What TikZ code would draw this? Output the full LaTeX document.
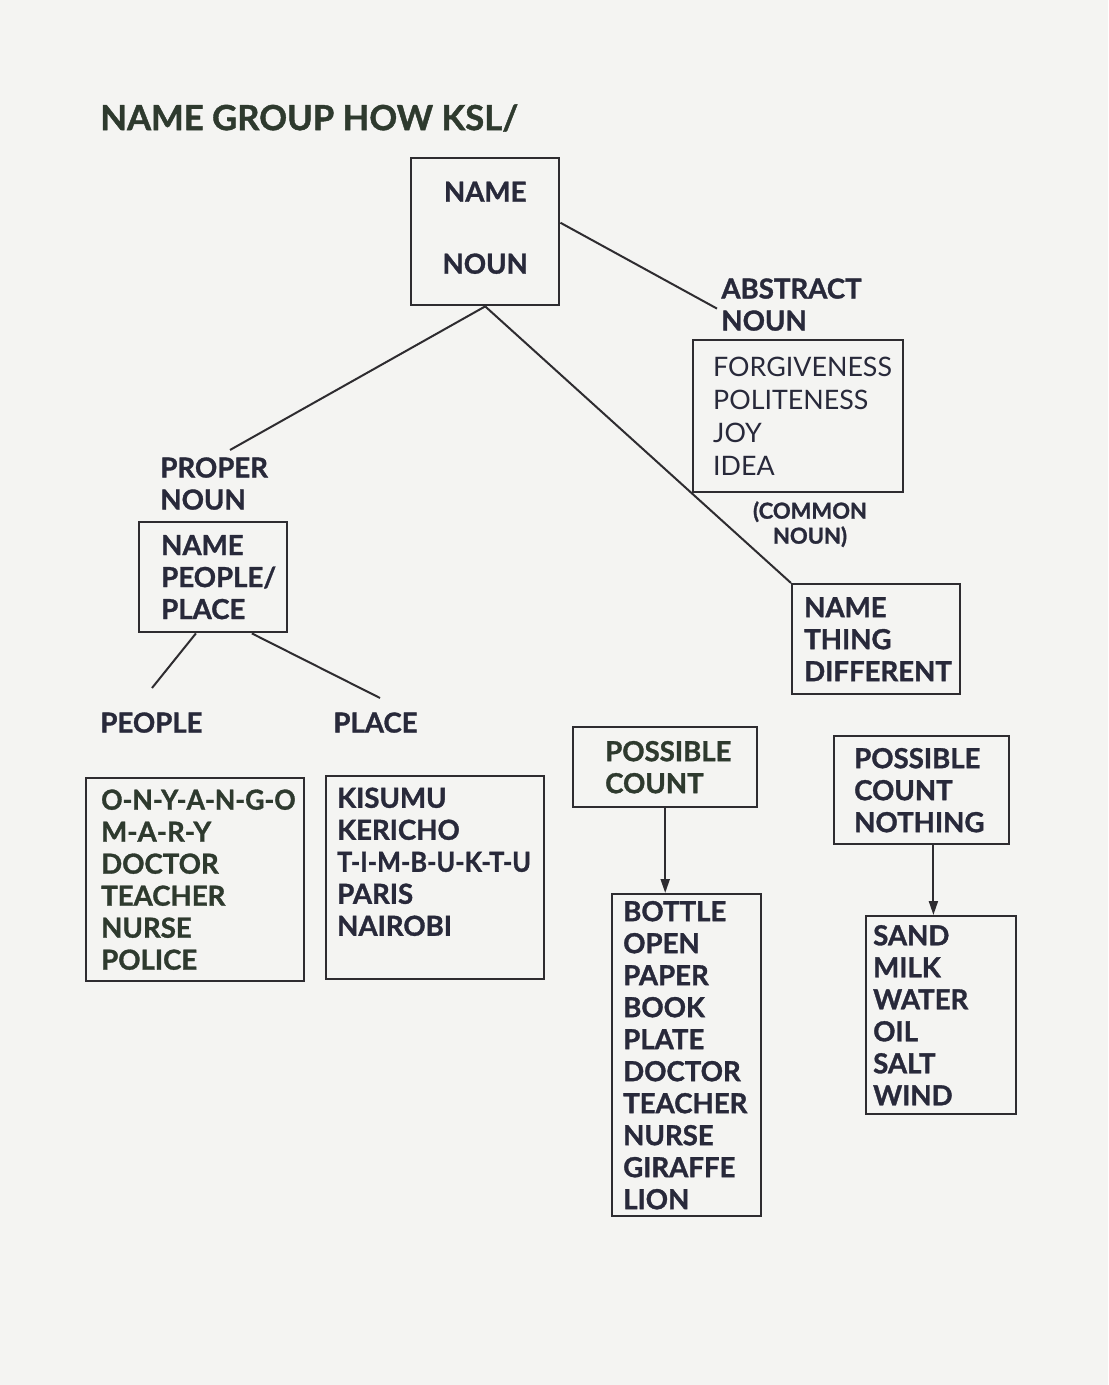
\documentclass[tikz,border=0pt]{standalone}
\usepackage{fontspec}
\setmainfont{Lato}[BoldFeatures={FakeBold=1.2}]
\usetikzlibrary{calc,arrows.meta}
\definecolor{ink}{HTML}{28293A}
\definecolor{inkg}{HTML}{2E3A2E}
\definecolor{lin}{HTML}{2E2C30}
\definecolor{bg}{HTML}{F4F4F2}
\begin{document}
\begin{tikzpicture}[x=0.5pt,y=-0.5pt,
  every node/.style={font=\bfseries\fontsize{13.8}{16}\selectfont, text=ink},
  box/.style={draw=lin, line width=1.2pt, rectangle, anchor=north west, inner ysep=0pt, align=left},
  lbl/.style={anchor=north west, inner sep=0pt, align=left},
  conn/.style={draw=lin, line width=1pt},
  arr/.style={draw=lin, line width=1pt, -{Triangle[length=7pt,width=4.5pt]}}]
\useasboundingbox (0,0) rectangle (1108,1385);
\fill[bg] (0,0) rectangle (1108,1385);
% title
\node[lbl, font=\bfseries\fontsize{17.3}{20}\selectfont, text=inkg] (title) at (100,104) {NAME GROUP HOW KSL/};
% root box
\node[box, minimum width=74pt, minimum height=73.5pt, text width=70pt, inner xsep=2pt, align=center] (nn) at (410,157) {NAME\\[20pt]NOUN\\[-12pt]\mbox{}};
% abstract
\node[lbl] (absl) at (721,278) {ABSTRACT\\NOUN};
\node[box, font=\fontsize{13.4}{16.5}\selectfont, minimum width=105pt, minimum height=76pt, inner xsep=10pt, text width=85pt] (abs) at (692,339) {FORGIVENESS\\POLITENESS\\JOY\\IDEA};
\node[anchor=north, inner sep=0pt, align=center, font=\bfseries\fontsize{11}{12.5}\selectfont] (cn) at (810,501) {(COMMON\\NOUN)};
% proper noun
\node[lbl] (prl) at (160,457) {PROPER\\NOUN};
\coordinate (prc) at (230,450);
\node[box, minimum width=74pt, minimum height=55pt, inner xsep=11pt, text width=52pt] (npp) at (138,521) {NAME\\PEOPLE/\\PLACE};
\node[lbl] (pel) at (100,712) {PEOPLE};
\node[lbl] (pll) at (333,712) {PLACE};
\coordinate (pec) at (152,688);
\coordinate (plc) at (380,698);
\node[box, minimum width=109pt, minimum height=101.5pt, inner xsep=7.5pt, text width=94pt, text=inkg] (ppl) at (85,777) {\scalebox{0.96}[1]{O-N-Y-A-N-G-O}\\\mbox{M-A-R-Y}\\DOCTOR\\TEACHER\\NURSE\\POLICE};
\node[box, minimum width=109pt, minimum height=101.5pt, inner xsep=5.5pt, text width=98pt] (plb) at (325,775) {KISUMU\\KERICHO\\\scalebox{0.915}[1]{T-I-M-B-U-K-T-U}\\PARIS\\NAIROBI\\\mbox{}};
% common nouns
\node[box, minimum width=84pt, minimum height=55pt, inner xsep=6pt, text width=72pt] (ntd) at (791,583) {NAME\\THING\\DIFFERENT};
\node[box, minimum width=92pt, minimum height=40pt, inner xsep=16pt, text width=60pt, text=inkg] (pc) at (572,726) {POSSIBLE\\COUNT};
\node[box, minimum width=74.5pt, minimum height=161pt, inner xsep=5.5pt, text width=63.5pt] (bot) at (611,893) {BOTTLE\\OPEN\\PAPER\\BOOK\\PLATE\\DOCTOR\\TEACHER\\NURSE\\GIRAFFE\\LION};
\node[box, minimum width=87.5pt, minimum height=54pt, inner xsep=10pt, text width=67.5pt] (pcn) at (833,735) {POSSIBLE\\COUNT\\NOTHING};
\node[box, minimum width=75pt, minimum height=99pt, inner xsep=3.5pt, text width=68pt] (snd) at (865,915) {SAND\\MILK\\WATER\\OIL\\SALT\\WIND};
% connectors
\draw[conn] ($(nn.north east)!0.44!(nn.south east)$) -- ($(absl.west)+(-4,4)$);
\draw[conn] (nn.south) -- (prc);
\draw[conn] (nn.south) -- (ntd.north west);
\draw[conn] ($(npp.south west)!0.385!(npp.south east)$) -- (pec);
\draw[conn] ($(npp.south west)!0.757!(npp.south east)$) -- (plc);
\draw[arr] (pc.south) -- (pc.south |- bot.north);
\draw[arr] ($(pcn.south west)!0.566!(pcn.south east)$) coordinate (pcs) -- (pcs |- snd.north);
\end{tikzpicture}
\end{document}
